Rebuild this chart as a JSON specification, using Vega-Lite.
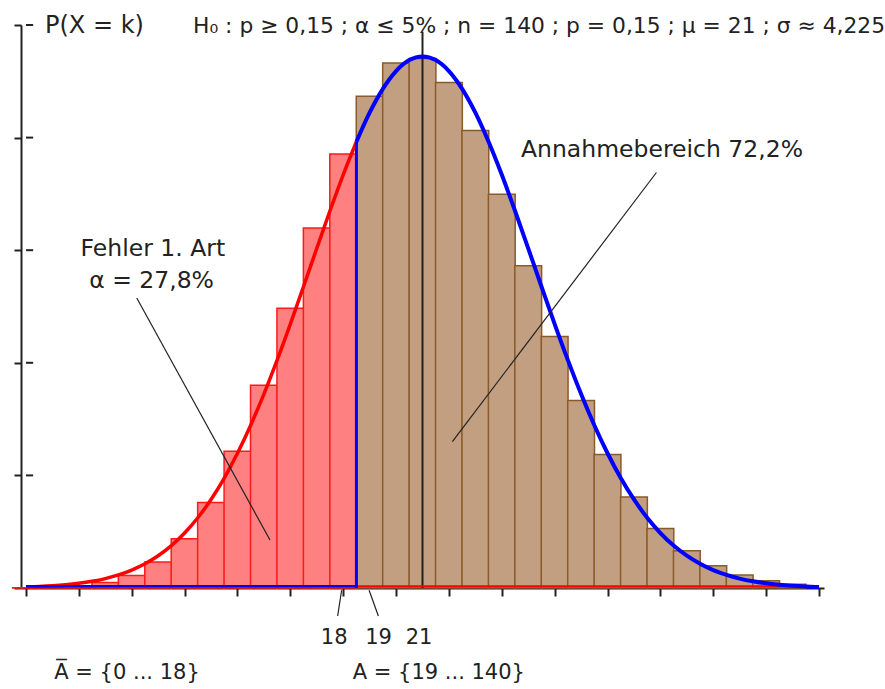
{
  "$schema": "https://vega.github.io/schema/vega-lite/v6.json",
  "width": 803,
  "height": 563,
  "autosize": {"type": "none"},
  "padding": {"left": 21, "top": 25, "right": 61, "bottom": 101},
  "background": "white",
  "config": {"view": {"stroke": null}, "font": "DejaVu Sans"},
  "datasets": {
    "bars": [
      {"k": 6, "p": 0.0000372, "region": "Ablehnung"},
      {"k": 7, "p": 0.000126, "region": "Ablehnung"},
      {"k": 8, "p": 0.000369, "region": "Ablehnung"},
      {"k": 9, "p": 0.000955, "region": "Ablehnung"},
      {"k": 10, "p": 0.002208, "region": "Ablehnung"},
      {"k": 11, "p": 0.004606, "region": "Ablehnung"},
      {"k": 12, "p": 0.008737, "region": "Ablehnung"},
      {"k": 13, "p": 0.015181, "region": "Ablehnung"},
      {"k": 14, "p": 0.024303, "region": "Ablehnung"},
      {"k": 15, "p": 0.036025, "region": "Ablehnung"},
      {"k": 16, "p": 0.049667, "region": "Ablehnung"},
      {"k": 17, "p": 0.063931, "region": "Ablehnung"},
      {"k": 18, "p": 0.077092, "region": "Ablehnung"},
      {"k": 19, "p": 0.087355, "region": "Annahme"},
      {"k": 20, "p": 0.093264, "region": "Annahme"},
      {"k": 21, "p": 0.094047, "region": "Annahme"},
      {"k": 22, "p": 0.089772, "region": "Annahme"},
      {"k": 23, "p": 0.081277, "region": "Annahme"},
      {"k": 24, "p": 0.069922, "region": "Annahme"},
      {"k": 25, "p": 0.057254, "region": "Annahme"},
      {"k": 26, "p": 0.044689, "region": "Annahme"},
      {"k": 27, "p": 0.033298, "region": "Annahme"},
      {"k": 28, "p": 0.023714, "region": "Annahme"},
      {"k": 29, "p": 0.016162, "region": "Annahme"},
      {"k": 30, "p": 0.010553, "region": "Annahme"},
      {"k": 31, "p": 0.006608, "region": "Annahme"},
      {"k": 32, "p": 0.003972, "region": "Annahme"},
      {"k": 33, "p": 0.002294, "region": "Annahme"},
      {"k": 34, "p": 0.001274, "region": "Annahme"},
      {"k": 35, "p": 0.000681, "region": "Annahme"}
    ],
    "curve": [
      {"x": 6, "f": 0.0001732, "part": "links"},
      {"x": 6.5, "f": 0.0002615, "part": "links"},
      {"x": 7, "f": 0.0003898, "part": "links"},
      {"x": 7.5, "f": 0.0005728, "part": "links"},
      {"x": 8, "f": 0.0008306, "part": "links"},
      {"x": 8.5, "f": 0.0011872, "part": "links"},
      {"x": 9, "f": 0.0016734, "part": "links"},
      {"x": 9.5, "f": 0.0023247, "part": "links"},
      {"x": 10, "f": 0.0031854, "part": "links"},
      {"x": 10.5, "f": 0.0043051, "part": "links"},
      {"x": 11, "f": 0.0057364, "part": "links"},
      {"x": 11.5, "f": 0.0075394, "part": "links"},
      {"x": 12, "f": 0.0097679, "part": "links"},
      {"x": 12.5, "f": 0.012478, "part": "links"},
      {"x": 13, "f": 0.015723, "part": "links"},
      {"x": 13.5, "f": 0.019534, "part": "links"},
      {"x": 14, "f": 0.023936, "part": "links"},
      {"x": 14.5, "f": 0.028916, "part": "links"},
      {"x": 15, "f": 0.034448, "part": "links"},
      {"x": 15.5, "f": 0.040468, "part": "links"},
      {"x": 16, "f": 0.046876, "part": "links"},
      {"x": 16.5, "f": 0.053548, "part": "links"},
      {"x": 17, "f": 0.06032, "part": "links"},
      {"x": 17.5, "f": 0.067, "part": "links"},
      {"x": 18, "f": 0.073389, "part": "links"},
      {"x": 18.5, "f": 0.079257, "part": "links"},
      {"x": 18.5, "f": 0.079257, "part": "rechts"},
      {"x": 19, "f": 0.084419, "part": "rechts"},
      {"x": 19.5, "f": 0.088659, "part": "rechts"},
      {"x": 20, "f": 0.091816, "part": "rechts"},
      {"x": 20.5, "f": 0.093765, "part": "rechts"},
      {"x": 21, "f": 0.094424, "part": "rechts"},
      {"x": 21.5, "f": 0.093765, "part": "rechts"},
      {"x": 22, "f": 0.091816, "part": "rechts"},
      {"x": 22.5, "f": 0.088659, "part": "rechts"},
      {"x": 23, "f": 0.084419, "part": "rechts"},
      {"x": 23.5, "f": 0.079257, "part": "rechts"},
      {"x": 24, "f": 0.073389, "part": "rechts"},
      {"x": 24.5, "f": 0.067, "part": "rechts"},
      {"x": 25, "f": 0.06032, "part": "rechts"},
      {"x": 25.5, "f": 0.053548, "part": "rechts"},
      {"x": 26, "f": 0.046876, "part": "rechts"},
      {"x": 26.5, "f": 0.040468, "part": "rechts"},
      {"x": 27, "f": 0.034448, "part": "rechts"},
      {"x": 27.5, "f": 0.028916, "part": "rechts"},
      {"x": 28, "f": 0.023936, "part": "rechts"},
      {"x": 28.5, "f": 0.019534, "part": "rechts"},
      {"x": 29, "f": 0.015723, "part": "rechts"},
      {"x": 29.5, "f": 0.012478, "part": "rechts"},
      {"x": 30, "f": 0.0097679, "part": "rechts"},
      {"x": 30.5, "f": 0.0075394, "part": "rechts"},
      {"x": 31, "f": 0.0057364, "part": "rechts"},
      {"x": 31.5, "f": 0.0043051, "part": "rechts"},
      {"x": 32, "f": 0.0031854, "part": "rechts"},
      {"x": 32.5, "f": 0.0023247, "part": "rechts"},
      {"x": 33, "f": 0.0016734, "part": "rechts"},
      {"x": 33.5, "f": 0.0011872, "part": "rechts"},
      {"x": 34, "f": 0.0008306, "part": "rechts"},
      {"x": 34.5, "f": 0.0005728, "part": "rechts"},
      {"x": 35, "f": 0.0003898, "part": "rechts"},
      {"x": 35.5, "f": 0.0002615, "part": "rechts"},
      {"x": 36, "f": 0.0001732, "part": "rechts"}
    ],
    "leaders": [
      {"x": 10.19, "y": 0.0515, "x2": 15.23, "y2": 0.00853},
      {"x": 29.85, "y": 0.0738, "x2": 22.13, "y2": 0.026},
      {"x": 17.94, "y": -0.0004, "x2": 17.79, "y2": -0.00497},
      {"x": 18.98, "y": -0.0004, "x2": 19.33, "y2": -0.00497}
    ],
    "yticks": [
      {"y": 0.02}, {"y": 0.04}, {"y": 0.06}, {"y": 0.08}, {"y": 0.1}
    ],
    "bigtext": [
      {"x": 10.8, "y": 0.059, "t": "Fehler 1. Art"},
      {"x": 10.75, "y": 0.0532, "t": "α = 27,8%"},
      {"x": 30.06, "y": 0.0766, "t": "Annahmebereich 72,2%"}
    ],
    "ctext": [
      {"x": 17.66, "y": -0.00995, "t": "18"},
      {"x": 19.34, "y": -0.00995, "t": "19"},
      {"x": 20.87, "y": -0.00995, "t": "21"}
    ],
    "toptext": [
      {"x": 6.72, "y": 0.0986, "t": "P(X = k)", "s": "a"},
      {"x": 12.32, "y": 0.0986, "t": "H₀ : p ≥ 0,15 ; α ≤ 5% ; n = 140 ; p = 0,15 ; μ = 21 ; σ ≈ 4,225", "s": "b"}
    ],
    "ltext": [
      {"x": 7.07, "y": -0.01616, "t": "A̅ = {0 ... 18}"},
      {"x": 18.36, "y": -0.01616, "t": "A = {19 ... 140}"}
    ]
  },
  "layer": [
    {
      "data": {"name": "bars"},
      "mark": {"type": "bar", "width": 26.78, "strokeWidth": 1.5},
      "encoding": {
        "x": {
          "field": "k", "type": "quantitative",
          "scale": {"domain": [6, 36], "nice": false, "zero": false},
          "axis": {
            "values": [6,7,8,9,10,11,12,13,14,15,16,17,18,19,20,21,22,23,24,25,26,27,28,29,30,31,32,33,34,35,36],
            "labels": false, "title": null, "grid": false,
            "tickSize": 8, "tickWidth": 2, "tickColor": "#222",
            "domainColor": "#222", "domainWidth": 2
          }
        },
        "y": {
          "field": "p", "type": "quantitative",
          "scale": {"domain": [0, 0.1], "nice": false},
          "axis": {
            "values": [0, 0.02, 0.04, 0.06, 0.08, 0.1],
            "labels": false, "title": null, "grid": false,
            "tickSize": 7, "tickWidth": 2, "tickColor": "#222",
            "domainColor": "#222", "domainWidth": 2
          }
        },
        "fill": {
          "field": "region", "type": "nominal",
          "scale": {"domain": ["Ablehnung", "Annahme"], "range": ["#ff8080", "#c19f80"]},
          "legend": null
        },
        "stroke": {
          "field": "region", "type": "nominal",
          "scale": {"domain": ["Ablehnung", "Annahme"], "range": ["#ff1a1a", "#8b5a2b"]},
          "legend": null
        }
      }
    },
    {
      "data": {"values": [{}]},
      "mark": {"type": "rule", "color": "#222", "strokeWidth": 2},
      "encoding": {
        "x": {"datum": 21, "type": "quantitative"},
        "y": {"datum": 0, "type": "quantitative"},
        "y2": {"datum": 0.0988}
      }
    },
    {
      "data": {"values": [{}]},
      "mark": {"type": "rule", "color": "#ff0000", "strokeWidth": 2},
      "encoding": {
        "x": {"datum": 18.5, "type": "quantitative"},
        "x2": {"datum": 35.1},
        "y": {"datum": 0.0003, "type": "quantitative"}
      }
    },
    {
      "data": {"name": "curve"},
      "transform": [{"filter": "datum.part == 'links'"}],
      "mark": {"type": "line", "color": "#ff0000", "strokeWidth": 3.5, "interpolate": "monotone"},
      "encoding": {
        "x": {"field": "x", "type": "quantitative"},
        "y": {"field": "f", "type": "quantitative"}
      }
    },
    {
      "data": {"values": [{}]},
      "mark": {"type": "rule", "color": "#0000ff", "strokeWidth": 2.5},
      "encoding": {
        "x": {"datum": 6, "type": "quantitative"},
        "x2": {"datum": 18.5},
        "y": {"datum": 0.0003, "type": "quantitative"}
      }
    },
    {
      "data": {"values": [{}]},
      "mark": {"type": "rule", "color": "#0000ff", "strokeWidth": 3},
      "encoding": {
        "x": {"datum": 18.5, "type": "quantitative"},
        "y": {"datum": 0, "type": "quantitative"},
        "y2": {"datum": 0.079257}
      }
    },
    {
      "data": {"name": "curve"},
      "transform": [{"filter": "datum.part == 'rechts'"}],
      "mark": {"type": "line", "color": "#0000ff", "strokeWidth": 4, "interpolate": "monotone"},
      "encoding": {
        "x": {"field": "x", "type": "quantitative"},
        "y": {"field": "f", "type": "quantitative"}
      }
    },
    {
      "data": {"name": "yticks"},
      "mark": {"type": "rule", "color": "#222", "strokeWidth": 2},
      "encoding": {
        "x": {"datum": 6, "type": "quantitative"},
        "x2": {"datum": 6.27},
        "y": {"field": "y", "type": "quantitative"}
      }
    },
    {
      "data": {"name": "leaders"},
      "mark": {"type": "rule", "color": "#222", "strokeWidth": 1.2},
      "encoding": {
        "x": {"field": "x", "type": "quantitative"},
        "y": {"field": "y", "type": "quantitative"},
        "x2": {"field": "x2"},
        "y2": {"field": "y2"}
      }
    },
    {
      "data": {"name": "bigtext"},
      "mark": {"type": "text", "align": "center", "baseline": "alphabetic", "fontSize": 23.5, "color": "#222", "font": "DejaVu Sans"},
      "encoding": {
        "x": {"field": "x", "type": "quantitative"},
        "y": {"field": "y", "type": "quantitative"},
        "text": {"field": "t"}
      }
    },
    {
      "data": {"name": "ctext"},
      "mark": {"type": "text", "align": "center", "baseline": "alphabetic", "fontSize": 21, "color": "#222", "font": "DejaVu Sans"},
      "encoding": {
        "x": {"field": "x", "type": "quantitative"},
        "y": {"field": "y", "type": "quantitative"},
        "text": {"field": "t"}
      }
    },
    {
      "data": {"name": "toptext"},
      "transform": [{"filter": "datum.s == 'a'"}],
      "mark": {"type": "text", "align": "left", "baseline": "alphabetic", "fontSize": 24, "color": "#222", "font": "DejaVu Sans"},
      "encoding": {
        "x": {"field": "x", "type": "quantitative"},
        "y": {"field": "y", "type": "quantitative"},
        "text": {"field": "t"}
      }
    },
    {
      "data": {"name": "toptext"},
      "transform": [{"filter": "datum.s == 'b'"}],
      "mark": {"type": "text", "align": "left", "baseline": "alphabetic", "fontSize": 21.8, "color": "#222", "font": "DejaVu Sans"},
      "encoding": {
        "x": {"field": "x", "type": "quantitative"},
        "y": {"field": "y", "type": "quantitative"},
        "text": {"field": "t"}
      }
    },
    {
      "data": {"name": "ltext"},
      "mark": {"type": "text", "align": "left", "baseline": "alphabetic", "fontSize": 21, "color": "#222", "font": "DejaVu Sans"},
      "encoding": {
        "x": {"field": "x", "type": "quantitative"},
        "y": {"field": "y", "type": "quantitative"},
        "text": {"field": "t"}
      }
    }
  ]
}
